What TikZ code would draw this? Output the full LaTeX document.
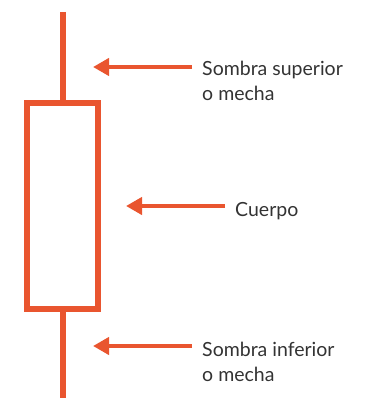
\documentclass[tikz,border=0pt]{standalone}
\usepackage{fontspec}
\setmainfont{Lato}
\usetikzlibrary{arrows.meta}
\definecolor{org}{HTML}{E9552F}
\definecolor{txt}{HTML}{333333}
\tikzset{
  candle/.style={draw=org, line width=6pt},
  callout/.style={draw=org, line width=4pt, -{Triangle[length=16pt,width=17pt]}},
  lbl/.style={text=txt, font=\fontsize{19.5pt}{25pt}\selectfont, anchor=base west, inner sep=0pt, align=left}
}
\begin{document}
\begin{tikzpicture}[x=1pt,y=-1pt]
\useasboundingbox (0,0) rectangle (373,398);
\node[candle, minimum width=71pt, minimum height=206pt, inner sep=0pt, outer sep=0pt] (body) at (62.5,206) {};
\coordinate (wt) at (62.5,12);
\coordinate (wb) at (62.5,398);
\draw[candle] (wt) -- (body.north);
\draw[candle] (body.south) -- (wb);
\node[lbl] (up) at (202,76) {Sombra superior};
\node[lbl] (up2) at (202,101) {o mecha};
\node[lbl] (cu) at (235,216) {Cuerpo};
\node[lbl] (lo) at (202,356) {Sombra inferior};
\node[lbl] (lo2) at (202,381) {o mecha};
\coordinate (a1s) at (192,67);
\coordinate (a1e) at (93,67);
\coordinate (a2s) at (225,206);
\coordinate (a2e) at (126,206);
\coordinate (a3s) at (192,346);
\coordinate (a3e) at (93,346);
\draw[callout] (a1s) -- (a1e);
\draw[callout] (a2s) -- (a2e);
\draw[callout] (a3s) -- (a3e);
\end{tikzpicture}
\end{document}
